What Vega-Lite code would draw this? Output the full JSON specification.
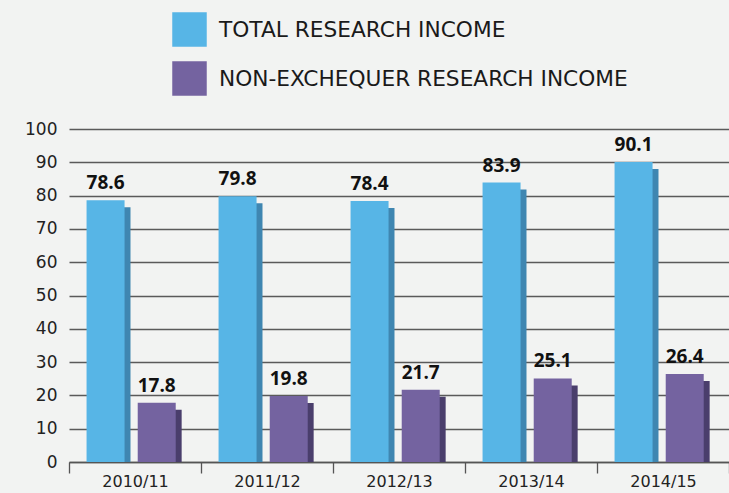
{
  "$schema": "https://vega.github.io/schema/vega-lite/v6.json",
  "autosize": {"type": "none"},
  "width": 660,
  "height": 333,
  "padding": {"left": 69, "top": 129, "right": 0, "bottom": 31},
  "background": "#f2f3f2",
  "config": {
    "view": {"stroke": null},
    "font": "DejaVu Sans"
  },
  "data": {
    "values": [
      {"year": "2010/11", "series": "TOTAL RESEARCH INCOME", "value": 78.6},
      {"year": "2011/12", "series": "TOTAL RESEARCH INCOME", "value": 79.8},
      {"year": "2012/13", "series": "TOTAL RESEARCH INCOME", "value": 78.4},
      {"year": "2013/14", "series": "TOTAL RESEARCH INCOME", "value": 83.9},
      {"year": "2014/15", "series": "TOTAL RESEARCH INCOME", "value": 90.1},
      {"year": "2010/11", "series": "NON-EXCHEQUER RESEARCH INCOME", "value": 17.8},
      {"year": "2011/12", "series": "NON-EXCHEQUER RESEARCH INCOME", "value": 19.8},
      {"year": "2012/13", "series": "NON-EXCHEQUER RESEARCH INCOME", "value": 21.7},
      {"year": "2013/14", "series": "NON-EXCHEQUER RESEARCH INCOME", "value": 25.1},
      {"year": "2014/15", "series": "NON-EXCHEQUER RESEARCH INCOME", "value": 26.4}
    ]
  },
  "encoding": {
    "x": {
      "field": "year", "type": "nominal", "title": null,
      "scale": {"paddingInner": 0, "paddingOuter": 0},
      "axis": {
        "labelAngle": 0, "labelFontSize": 16, "labelColor": "#222222", "labelFont": "DejaVu Sans",
        "domainColor": "#555555", "domainWidth": 1.3,
        "ticks": true, "tickBand": "extent", "tickSize": 11, "tickColor": "#555555", "tickWidth": 1.3,
        "labelPadding": 0, "grid": false
      }
    },
    "y": {
      "field": "value", "type": "quantitative", "title": null,
      "scale": {"domain": [0, 100], "nice": false},
      "axis": {
        "values": [0, 10, 20, 30, 40, 50, 60, 70, 80, 90, 100],
        "domain": false, "ticks": false, "labelPadding": 12,
        "labelFontSize": 17, "labelColor": "#222222", "labelFont": "DejaVu Sans",
        "gridColor": "#5a5a5a", "gridWidth": 1.3
      }
    }
  },
  "layer": [
    {
      "mark": {"type": "bar", "width": 38, "yOffset": 7, "clip": true},
      "encoding": {
        "xOffset": {
          "field": "series", "type": "nominal",
          "scale": {"domain": ["TOTAL RESEARCH INCOME", "NON-EXCHEQUER RESEARCH INCOME"], "paddingInner": 0, "paddingOuter": 0.29, "align": 0.57}
        },
        "color": {
          "field": "series", "type": "nominal", "legend": null,
          "scale": {"domain": ["TOTAL RESEARCH INCOME", "NON-EXCHEQUER RESEARCH INCOME"], "range": ["#3f86b1", "#4a3e6c"]}
        }
      }
    },
    {
      "layer": [
        {
          "mark": {"type": "bar", "width": 38},
          "encoding": {
            "color": {
              "field": "series", "type": "nominal",
              "scale": {"domain": ["TOTAL RESEARCH INCOME", "NON-EXCHEQUER RESEARCH INCOME"], "range": ["#57b5e6", "#7463a0"]},
              "legend": {
                "title": null, "orient": "none", "legendX": 103, "legendY": -117,
                "symbolType": "square", "symbolSize": 1190, "symbolStrokeWidth": 0,
                "labelFontSize": 21.7, "labelFont": "DejaVu Sans", "labelColor": "#1a1a1a",
                "labelOffset": 12, "rowPadding": 14, "labelLimit": 500, "padding": 0
              }
            }
          }
        },
        {
          "mark": {"type": "text", "dy": -11, "fontSize": 19, "fontWeight": "bold", "font": "Open Sans", "color": "#111111", "baseline": "alphabetic"},
          "encoding": {
            "text": {"field": "value", "type": "quantitative", "format": ".1f"}
          }
        }
      ],
      "encoding": {
        "xOffset": {
          "field": "series", "type": "nominal",
          "scale": {"domain": ["TOTAL RESEARCH INCOME", "NON-EXCHEQUER RESEARCH INCOME"], "paddingInner": 0, "paddingOuter": 0.29, "align": 0.37}
        }
      }
    }
  ],
  "resolve": {"scale": {"color": "independent", "xOffset": "independent"}}
}
